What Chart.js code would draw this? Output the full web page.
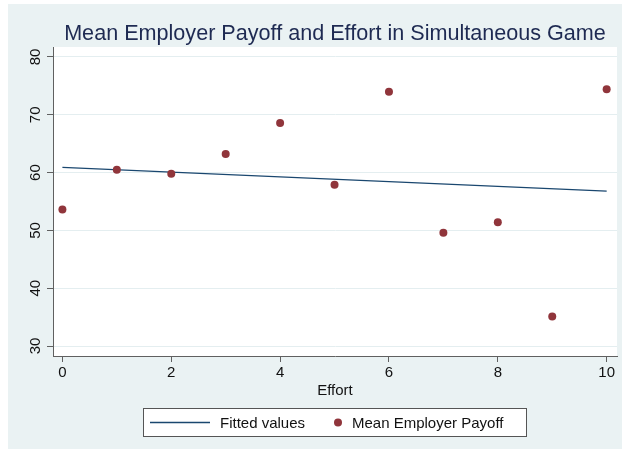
<!DOCTYPE html>
<html>
<head>
<meta charset="utf-8">
<script src="https://cdn.jsdelivr.net/npm/chart.js@4/dist/chart.umd.min.js"></script>
<style>
  html, body { margin: 0; padding: 0; background: #ffffff; }
  #wrap { width: 622px; height: 454px; position: relative; }
</style>
</head>
<body>
<div id="wrap"><canvas id="c" width="622" height="454"></canvas></div>
<script>
// Effort levels and mean employer payoff at each level
const effort = [0, 1, 2, 3, 4, 5, 6, 7, 8, 9, 10];
const meanPayoff = [53.6, 60.5, 59.8, 63.2, 68.6, 57.9, 74.0, 49.6, 51.4, 35.1, 74.4];

// Linear fit, evaluated at the ends of the effort range
const fitEffort = [0, 10];
const fitPayoff = [60.9, 56.8];

// Axis tick labels
const xTicks = [0, 2, 4, 6, 8, 10];
const yTicks = [30, 40, 50, 60, 70, 80];

const titleText = 'Mean Employer Payoff and Effort in Simultaneous Game';
const FONT = '"Liberation Sans", Helvetica, Arial, sans-serif';

const NAVY = '#1a476f';
const MAROON = '#90353b';
const REGION = '#eaf2f3';
const AXIS = '#606060';

const chrome = {
  id: 'chrome',
  beforeDraw(chart) {
    const { ctx, chartArea: a } = chart;
    ctx.save();
    ctx.fillStyle = '#ffffff';
    ctx.fillRect(0, 0, chart.width, chart.height);
    ctx.fillStyle = REGION;
    ctx.fillRect(8, 4, chart.width - 8, 445);
    ctx.fillStyle = '#ffffff';
    ctx.fillRect(a.left, a.top, a.right - a.left, a.bottom - a.top);
    ctx.restore();
  },
  afterDraw(chart) {
    const { ctx, chartArea: a } = chart;
    const ys = chart.scales.y;
    ctx.save();

    // title
    ctx.fillStyle = '#1e2a52';
    ctx.font = '21.6px ' + FONT;
    ctx.textAlign = 'center';
    ctx.textBaseline = 'alphabetic';
    ctx.fillText(titleText, (a.left + a.right) / 2, 40);

    // vertical y tick labels
    ctx.fillStyle = '#111111';
    ctx.font = '15px ' + FONT;
    ctx.textBaseline = 'middle';
    ys.ticks.forEach(t => {
      const y = ys.getPixelForValue(t.value);
      ctx.save();
      ctx.translate(36, y);
      ctx.rotate(-Math.PI / 2);
      ctx.textAlign = 'center';
      ctx.fillText(String(t.value), 0, 0);
      ctx.restore();
    });

    // legend
    const ds = chart.data.datasets;
    const bx = 143.5, by = 408.5, bw = 383, bh = 28;
    ctx.fillStyle = '#ffffff';
    ctx.fillRect(bx, by, bw, bh);
    ctx.strokeStyle = '#555555';
    ctx.lineWidth = 1;
    ctx.strokeRect(bx, by, bw, bh);
    const cy = by + bh / 2;
    ctx.strokeStyle = NAVY;
    ctx.lineWidth = 1.3;
    ctx.beginPath();
    ctx.moveTo(150, cy);
    ctx.lineTo(210, cy);
    ctx.stroke();
    ctx.fillStyle = '#111111';
    ctx.textAlign = 'left';
    ctx.textBaseline = 'middle';
    ctx.font = '15px ' + FONT;
    ctx.fillText(ds[0].label, 220, cy + 1);
    ctx.fillStyle = MAROON;
    ctx.beginPath();
    ctx.arc(338, cy, 4, 0, Math.PI * 2);
    ctx.fill();
    ctx.fillStyle = '#111111';
    ctx.fillText(ds[1].label, 352, cy + 1);

    ctx.restore();
  }
};

new Chart(document.getElementById('c'), {
  type: 'scatter',
  data: {
    datasets: [
      {
        label: 'Fitted values',
        data: fitEffort.map((x, i) => ({ x, y: fitPayoff[i] })),
        showLine: true,
        borderColor: NAVY,
        borderWidth: 1.3,
        pointRadius: 0,
        order: 1
      },
      {
        label: 'Mean Employer Payoff',
        data: effort.map((x, i) => ({ x, y: meanPayoff[i] })),
        backgroundColor: MAROON,
        borderColor: MAROON,
        borderWidth: 0,
        pointRadius: 4,
        order: 0
      }
    ]
  },
  options: {
    responsive: false,
    devicePixelRatio: 1,
    animation: false,
    layout: { padding: { left: 0, right: 5, top: 47, bottom: 0 } },
    plugins: {
      legend: { display: false },
      title: { display: false },
      tooltip: { enabled: false }
    },
    scales: {
      x: {
        type: 'linear',
        min: -0.173,
        max: 10.19,
        afterBuildTicks: s => { s.ticks = xTicks.map(v => ({ value: v })); },
        afterFit: s => { s.height = 98; },
        grid: { drawOnChartArea: false, drawTicks: true, tickLength: 6, tickColor: AXIS },
        border: { display: true, color: AXIS, width: 1 },
        ticks: { color: '#111111', padding: 2, maxRotation: 0, font: { family: FONT, size: 15 } },
        title: {
          display: true,
          text: 'Effort',
          color: '#111111',
          font: { family: FONT, size: 15 },
          padding: { top: 0, bottom: 54 }
        }
      },
      y: {
        type: 'linear',
        min: 28.27,
        max: 81.73,
        afterBuildTicks: s => { s.ticks = yTicks.map(v => ({ value: v })); },
        afterFit: s => { s.width = 53; },
        grid: { color: '#e4eef0', lineWidth: 1, drawTicks: true, tickLength: 6, tickColor: AXIS },
        border: { display: true, color: AXIS, width: 1 },
        ticks: { display: false }
      }
    }
  },
  plugins: [chrome]
});
</script>
</body>
</html>
